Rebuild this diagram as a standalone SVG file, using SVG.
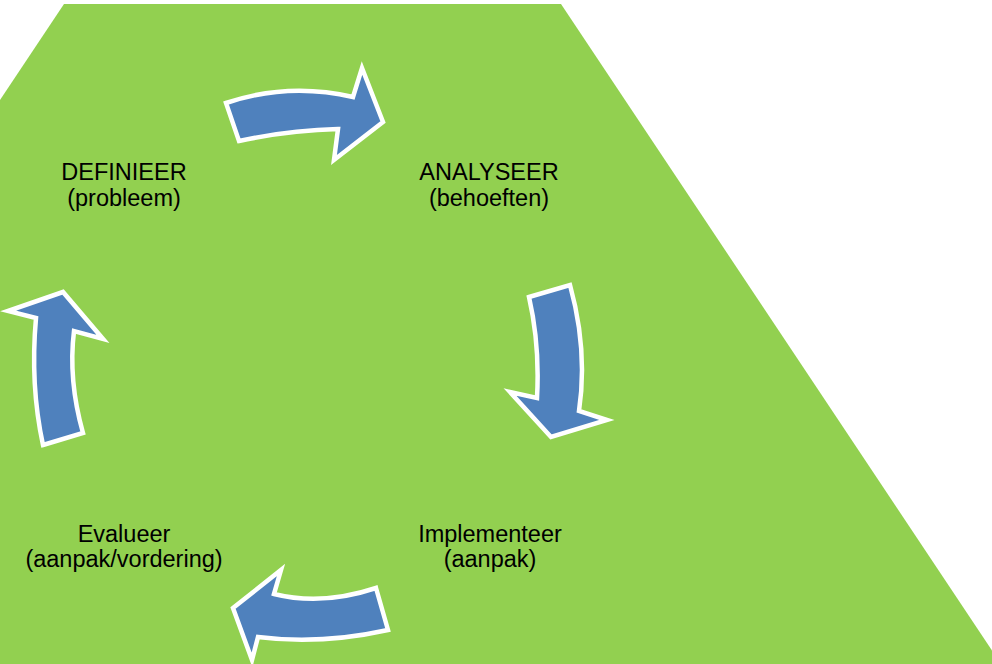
<svg xmlns="http://www.w3.org/2000/svg" width="992" height="664" viewBox="0 0 992 664">
<style>
.arrow{fill:#4F81BD;stroke:#FFFFFF;stroke-width:4.5;stroke-linejoin:miter;stroke-miterlimit:10}
.lbl{font-family:"Liberation Sans",Arial,sans-serif;font-size:23.5px;fill:#000000;text-anchor:middle}
</style>
<rect x="0" y="0" width="992" height="664" fill="#FFFFFF"/>
<polygon id="background" points="64,4 561,4 1001,664 0,664 0,100" fill="#92D050"/>
<g id="connectors">
<path class="arrow" d="M 226,103 Q 288,82 353,97 L 362,68 L 383,122 L 334,160 L 338,129 Q 290,130 239,141 Z"/>
<path class="arrow" d="M 529,297 L 570,285 Q 588,350 579,411 L 607,420 L 551,437 L 510,392 L 537,398 Q 540,345 529,297 Z"/>
<path class="arrow" d="M 376,588 L 388,630 Q 320,645 258,637 L 252,660 L 233,608 L 281,570 L 274,594 Q 322,606 376,588 Z"/>
<path class="arrow" d="M 43,445 L 83,433 Q 68,380 74,331 L 103,339 L 63,292 L 8,311 L 36,318 Q 30,385 43,445 Z"/>
</g>
<g id="node-definieer">
<text class="lbl" x="124" y="180">DEFINIEER</text>
<text class="lbl" x="124" y="206">(probleem)</text>
</g>
<g id="node-analyseer">
<text class="lbl" x="489" y="180">ANALYSEER</text>
<text class="lbl" x="489" y="206">(behoeften)</text>
</g>
<g id="node-implementeer">
<text class="lbl" x="490" y="542">Implementeer</text>
<text class="lbl" x="490" y="567">(aanpak)</text>
</g>
<g id="node-evalueer">
<text class="lbl" x="124" y="542">Evalueer</text>
<text class="lbl" x="124" y="567">(aanpak/vordering)</text>
</g>
</svg>
